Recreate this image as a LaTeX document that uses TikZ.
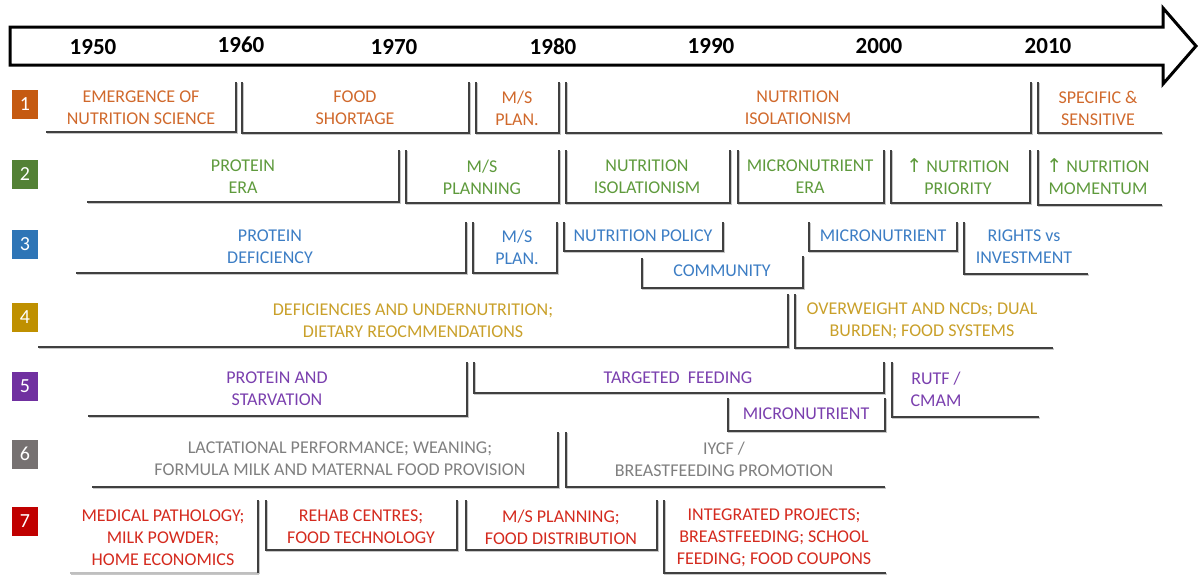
\documentclass[tikz,border=0pt]{standalone}
\usepackage{fontspec}
\setmainfont{Carlito}
\newfontfamily\symfont{DejaVu Sans}
\definecolor{c1}{HTML}{C55A11}
\definecolor{c2}{HTML}{538135}
\definecolor{c3}{HTML}{2E75B6}
\definecolor{c4}{HTML}{BF9000}
\definecolor{c5}{HTML}{7030A0}
\definecolor{c6}{HTML}{767171}
\definecolor{c7}{HTML}{C00000}
\definecolor{t1}{HTML}{D0692C}
\definecolor{t2}{HTML}{5E9A3C}
\definecolor{t3}{HTML}{3C7DC4}
\definecolor{t4}{HTML}{C9A02A}
\definecolor{t5}{HTML}{7A3FAE}
\definecolor{t6}{HTML}{7F7F7F}
\definecolor{t7}{HTML}{D42A1E}
\definecolor{ln}{HTML}{404040}
\newcommand{\up}{{\symfont\fontsize{19}{22}\selectfont ↑}}
\begin{document}
\begin{tikzpicture}[x=1pt,y=-1pt,
  br/.style={draw=ln, line width=1.5pt,
    preaction={draw=black!22, line width=1.5pt, transform canvas={shift={(1.2pt,-1.2pt)}}}},
  lbl/.style={align=center, inner sep=0pt, font=\fontsize{18}{22}\selectfont},
  yr/.style={inner sep=0pt, font=\bfseries\fontsize{23}{26}\selectfont},
  num/.style={minimum width=26pt, minimum height=29pt, inner sep=0pt, text=white,
    font=\fontsize{20}{24}\selectfont}]
\useasboundingbox (0,0) rectangle (1198,574);

% timeline arrow
\draw[line width=3pt, line join=miter] (10,27) -- (1163,27) -- (1163,8) -- (1196,46) -- (1163,84) -- (1163,65) -- (10,65) -- cycle;
\node[yr] (y1950) at (93,47) {1950};
\node[yr] (y1960) at (241,45) {1960};
\node[yr] (y1970) at (394,47) {1970};
\node[yr] (y1980) at (553,47) {1980};
\node[yr] (y1990) at (711,46) {1990};
\node[yr] (y2000) at (879,46) {2000};
\node[yr] (y2010) at (1048,46) {2010};

% number boxes
\node[num, fill=c1] (n1) at (25,104) {1};
\node[num, fill=c2] (n2) at (25,174) {2};
\node[num, fill=c3] (n3) at (25,244) {3};
\node[num, fill=c4] (n4) at (25,317) {4};
\node[num, fill=c5] (n5) at (25,386) {5};
\node[num, fill=c6] (n6) at (25,454) {6};
\node[num, fill=c7] (n7) at (25,521) {7};

% row 1
\node[lbl, text=t1] (t11) at (141,108) {EMERGENCE OF\\NUTRITION SCIENCE};
\node[lbl, text=t1] (t12) at (355,108) {FOOD\\SHORTAGE};
\node[lbl, text=t1] (t13) at (517,108) {M/S\\PLAN.};
\node[lbl, text=t1] (t14) at (798,108) {NUTRITION\\ISOLATIONISM};
\node[lbl, text=t1] (t15) at (1098,108) {SPECIFIC \&\\SENSITIVE};
\draw[br] (46,132) -- (236,132) -- (236,82);
\draw[br] (242,82) -- (242,133) -- (469,133) -- (469,82);
\draw[br] (476,82) -- (476,133) -- (559,133) -- (559,82);
\draw[br] (566,82) -- (566,133) -- (1031,133) -- (1031,82);
\draw[br] (1038,82) -- (1038,133) -- (1162,133);

% row 2
\node[lbl, text=t2] (t21) at (243,177) {PROTEIN\\ERA};
\node[lbl, text=t2] (t22) at (482,177) {M/S\\PLANNING};
\node[lbl, text=t2] (t23) at (647,177) {NUTRITION\\ISOLATIONISM};
\node[lbl, text=t2] (t24) at (810,177) {MICRONUTRIENT\\ERA};
\node[lbl, text=t2] (t25) at (958,177) {\up\ NUTRITION\\PRIORITY};
\node[lbl, text=t2] (t26) at (1098,177) {\up\ NUTRITION\\MOMENTUM};
\draw[br] (87,202) -- (399,202) -- (399,150);
\draw[br] (406,150) -- (406,203) -- (559,203) -- (559,150);
\draw[br] (566,150) -- (566,203) -- (730,203) -- (730,150);
\draw[br] (738,150) -- (738,203) -- (884,203) -- (884,150);
\draw[br] (891,150) -- (891,203) -- (1030,203) -- (1030,150);
\draw[br] (1038,150) -- (1038,205) -- (1162,205);

% row 3
\node[lbl, text=t3] (t31) at (270,247) {PROTEIN\\DEFICIENCY};
\node[lbl, text=t3] (t32) at (517,247) {M/S\\PLAN.};
\node[lbl, text=t3] (t33) at (643,236) {NUTRITION POLICY};
\node[lbl, text=t3] (t34) at (722,271) {COMMUNITY};
\node[lbl, text=t3] (t35) at (883,236) {MICRONUTRIENT};
\node[lbl, text=t3] (t36) at (1024,247) {RIGHTS vs\\INVESTMENT};
\draw[br] (76,273) -- (466,273) -- (466,222);
\draw[br] (473,222) -- (473,273) -- (557,273) -- (557,222);
\draw[br] (564,222) -- (564,251) -- (723,251) -- (723,222);
\draw[br] (642,258) -- (642,288) -- (803,288) -- (803,256);
\draw[br] (809,222) -- (809,251) -- (957,251) -- (957,222);
\draw[br] (964,222) -- (964,274) -- (1088,274);

% row 4
\node[lbl, text=t4] (t41) at (413,321) {DEFICIENCIES AND UNDERNUTRITION;\\DIETARY REOCMMENDATIONS};
\node[lbl, text=t4] (t42) at (922,321) {OVERWEIGHT AND NCDs; DUAL\\BURDEN; FOOD SYSTEMS};
\draw[br] (38,347) -- (788,347) -- (788,294);
\draw[br] (795,294) -- (795,348) -- (1053,348);

% row 5
\node[lbl, text=t5] (t51) at (277,389) {PROTEIN AND\\STARVATION};
\node[lbl, text=t5] (t52) at (678,378) {TARGETED\ \ FEEDING};
\node[lbl, text=t5] (t53) at (806,414) {MICRONUTRIENT};
\node[lbl, text=t5] (t54) at (936,389) {RUTF /\\CMAM};
\draw[br] (88,416) -- (467,416) -- (467,362);
\draw[br] (474,362) -- (474,393) -- (884,393) -- (884,362);
\draw[br] (728,398) -- (728,431) -- (885,431) -- (885,398);
\draw[br] (892,362) -- (892,417) -- (1039,417);

% row 6
\node[lbl, text=t6] (t61) at (340,459) {LACTATIONAL PERFORMANCE; WEANING;\\FORMULA MILK AND MATERNAL FOOD PROVISION};
\node[lbl, text=t6] (t62) at (724,459) {IYCF /\\BREASTFEEDING PROMOTION};
\draw[br] (92,487) -- (558,487) -- (558,432);
\draw[br] (566,432) -- (566,487) -- (885,487);

% row 7
\node[lbl, text=t7] (t71) at (163,538) {MEDICAL PATHOLOGY;\\MILK POWDER;\\HOME ECONOMICS};
\node[lbl, text=t7] (t72) at (361,527) {REHAB CENTRES;\\FOOD TECHNOLOGY};
\node[lbl, text=t7] (t73) at (561,527) {M/S PLANNING;\\FOOD DISTRIBUTION};
\node[lbl, text=t7] (t74) at (774,538) {INTEGRATED PROJECTS;\\BREASTFEEDING; SCHOOL\\FEEDING; FOOD COUPONS};
\draw[br, draw=black!25] (70,573) -- (258,573);
\draw[br] (258,573) -- (258,500);
\draw[br] (266,500) -- (266,550) -- (457,550) -- (457,500);
\draw[br] (466,500) -- (466,550) -- (657,550) -- (657,500);
\draw[br] (664,500) -- (664,573) -- (886,573);
\end{tikzpicture}
\end{document}
